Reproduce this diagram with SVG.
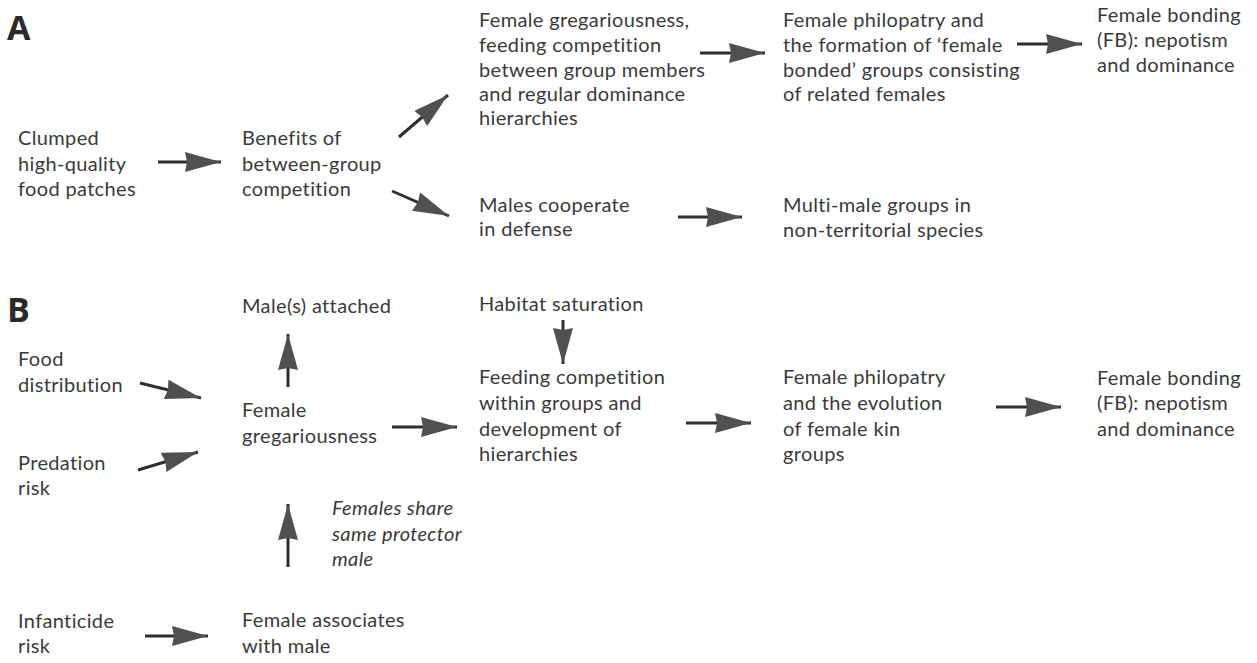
<svg xmlns="http://www.w3.org/2000/svg" width="1257" height="663" viewBox="0 0 1257 663">
<defs>
<style>
text{font-family:Lato,"Open Sans",sans-serif;font-size:20px;letter-spacing:0.35px;fill:#3a3a3a}
.lbl{font-family:"Open Sans",sans-serif;font-size:34px;font-weight:bold;letter-spacing:0;fill:#2a2a2a}
.it{font-style:italic}
.c{stroke:#2e2e2e;stroke-width:3;fill:none;marker-end:url(#ah)}
</style>
<marker id="ah" markerUnits="userSpaceOnUse" viewBox="0 0 36 20" refX="36" refY="10" markerWidth="36" markerHeight="20" orient="auto">
<path d="M0,0 L36,10 L0,20 L2,10 z" fill="#4f5150"/>
</marker>
</defs>
<rect width="1257" height="663" fill="#fff"/>
<text class="lbl" x="7" y="40">A</text>
<text class="lbl" x="7" y="322">B</text>
<g id="connectors">
<line class="c" x1="158" y1="162" x2="221" y2="162"/>
<line class="c" x1="399" y1="137" x2="448" y2="95"/>
<line class="c" x1="392" y1="191" x2="449" y2="216"/>
<line class="c" x1="700" y1="53" x2="765" y2="53"/>
<line class="c" x1="1017" y1="44" x2="1082" y2="44"/>
<line class="c" x1="678" y1="217" x2="742" y2="217"/>
<line class="c" x1="288" y1="387" x2="288" y2="334"/>
<line class="c" x1="140" y1="383" x2="201" y2="398"/>
<line class="c" x1="138" y1="470" x2="198" y2="452"/>
<line class="c" x1="288" y1="567" x2="288" y2="504"/>
<line class="c" x1="145" y1="636" x2="208" y2="636"/>
<line class="c" x1="392" y1="427" x2="457" y2="427"/>
<line class="c" x1="563" y1="320" x2="563" y2="364"/>
<line class="c" x1="686" y1="423" x2="751" y2="423"/>
<line class="c" x1="996" y1="407" x2="1061" y2="407"/>
</g>
<g id="a_clumped"><text x="18" y="145">Clumped</text><text x="18" y="171">high-quality</text><text x="18" y="196">food patches</text></g>
<g id="a_benefits"><text x="242" y="145">Benefits of</text><text x="242" y="171">between-group</text><text x="242" y="196">competition</text></g>
<g id="a_gregar"><text x="479" y="27">Female gregariousness,</text><text x="479" y="52">feeding competition</text><text x="479" y="77">between group members</text><text x="479" y="101">and regular dominance</text><text x="479" y="125">hierarchies</text></g>
<g id="a_philo"><text x="783" y="27">Female philopatry and</text><text x="783" y="52">the formation of ‘female</text><text x="783" y="77">bonded’ groups consisting</text><text x="783" y="101">of related females</text></g>
<g id="a_fb"><text x="1097" y="22">Female bonding</text><text x="1097" y="47">(FB): nepotism</text><text x="1097" y="72">and dominance</text></g>
<g id="a_males"><text x="479" y="212">Males cooperate</text><text x="479" y="236">in defense</text></g>
<g id="a_multi"><text x="783" y="212">Multi-male groups in</text><text x="783" y="237">non-territorial species</text></g>
<g id="b_attached"><text x="242" y="313">Male(s) attached</text></g>
<g id="b_food"><text x="18" y="366">Food</text><text x="18" y="392">distribution</text></g>
<g id="b_greg"><text x="242" y="417">Female</text><text x="242" y="443">gregariousness</text></g>
<g id="b_pred"><text x="18" y="470">Predation</text><text x="18" y="495">risk</text></g>
<g id="b_share"><text class="it" x="332" y="515">Females share</text><text class="it" x="332" y="541">same protector</text><text class="it" x="332" y="566">male</text></g>
<g id="b_inf"><text x="18" y="628">Infanticide</text><text x="18" y="653">risk</text></g>
<g id="b_assoc"><text x="242" y="627">Female associates</text><text x="242" y="653">with male</text></g>
<g id="b_habitat"><text x="479" y="311">Habitat saturation</text></g>
<g id="b_feeding"><text x="479" y="384">Feeding competition</text><text x="479" y="410">within groups and</text><text x="479" y="436">development of</text><text x="479" y="461">hierarchies</text></g>
<g id="b_philo"><text x="783" y="384">Female philopatry</text><text x="783" y="410">and the evolution</text><text x="783" y="436">of female kin</text><text x="783" y="461">groups</text></g>
<g id="b_fb"><text x="1097" y="385">Female bonding</text><text x="1097" y="410">(FB): nepotism</text><text x="1097" y="436">and dominance</text></g>
</svg>
